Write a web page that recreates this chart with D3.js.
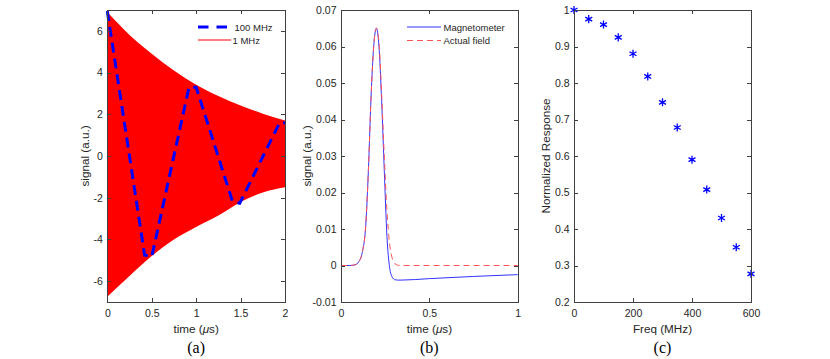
<!DOCTYPE html>
<html>
<head>
<meta charset="utf-8">
<script src="https://cdn.jsdelivr.net/npm/d3@7"></script>
<style>
  body { margin: 0; background: #fff; }
  text { font-family: "Liberation Sans", Arial, sans-serif; fill: #262626; }
</style>
</head>
<body>
<svg id="chart" width="830" height="359"></svg>
<script>
// (a) ringing signal: envelope of the 1 MHz trace and the 100 MHz trace
const envT     = [0, 0.25, 0.5, 0.75, 1.0, 1.25, 1.5, 1.75, 2.0];
const envUpper = [6.9, 5.8, 4.9, 4.1, 3.42, 2.88, 2.42, 2.03, 1.7];
const envLower = [-6.75, -5.75, -4.8, -4.0, -3.4, -2.85, -2.2, -1.75, -1.5];
const fastT    = [0, 0.42, 0.5, 0.92, 1.0, 1.41, 1.49, 1.94, 2.0];
const fastV    = [6.95, -4.75, -4.83, 3.3, 3.3, -2.19, -2.27, 1.6, 1.6];

// (b) pulse response
const magT = [0, 0.05, 0.08, 0.1, 0.12, 0.14, 0.155, 0.17, 0.185, 0.2, 0.215, 0.23, 0.245, 0.26, 0.275, 0.29, 0.305, 0.32, 0.34, 0.5, 0.75, 1.0];
const magV = [0, 0, 0.0002, 0.001, 0.0035, 0.011, 0.026, 0.046, 0.06, 0.065, 0.06, 0.045, 0.026, 0.008, -0.0005, -0.0032, -0.0039, -0.004, -0.004, -0.0036, -0.003, -0.0025];
const actT = [0, 0.05, 0.08, 0.1, 0.12, 0.14, 0.155, 0.17, 0.185, 0.2, 0.215, 0.23, 0.245, 0.26, 0.275, 0.29, 0.305, 0.32, 0.34, 1.0];
const actV = [0, 0, 0.0002, 0.001, 0.0035, 0.011, 0.026, 0.046, 0.06, 0.065, 0.061, 0.047, 0.03, 0.015, 0.006, 0.002, 0.0005, 0.0001, 0, 0];

// (c) frequency response
const freq = [0, 50, 100, 150, 200, 250, 300, 350, 400, 450, 500, 550, 600];
const resp = [1, 0.975, 0.96, 0.925, 0.88, 0.818, 0.747, 0.678, 0.59, 0.508, 0.43, 0.35, 0.277];

// ticks
const xTicksA = [0, 0.5, 1, 1.5, 2];
const yTicksA = [-6, -4, -2, 0, 2, 4, 6];
const xTicksB = [0, 0.5, 1];
const yTicksB = [-0.01, 0, 0.01, 0.02, 0.03, 0.04, 0.05, 0.06, 0.07];
const xTicksC = [0, 200, 400, 600];
const yTicksC = [0.2, 0.3, 0.4, 0.5, 0.6, 0.7, 0.8, 0.9, 1];

const svg = d3.select("#chart");
const plotTop = 10, plotBottom = 302;

function panel(left, right, xDom, yDom, xTicks, yTicks, yFmt, xLabel, yLabel, yLabelX, tag) {
  const x = d3.scaleLinear().domain(xDom).range([left, right]);
  const y = d3.scaleLinear().domain(yDom).range([plotBottom, plotTop]);
  const g = svg.append("g");
  const plot = g.append("g");

  const axes = g.append("g").attr("font-size", 10.5);
  const ax = [
    [d3.axisBottom(x).tickValues(xTicks).tickFormat(d => String(d)).tickPadding(8), `translate(0,${plotBottom})`],
    [d3.axisTop(x).tickValues(xTicks).tickFormat(""), `translate(0,${plotTop})`],
    [d3.axisLeft(y).tickValues(yTicks).tickFormat(yFmt).tickPadding(4.5), `translate(${left},0)`],
    [d3.axisRight(y).tickValues(yTicks).tickFormat(""), `translate(${right},0)`]
  ];
  ax.forEach(([a, t]) => {
    const s = axes.append("g").attr("transform", t)
      .call(a.tickSize(-4).tickSizeOuter(0));
    s.attr("font-family", null).attr("font-size", null);
    s.selectAll("path, line").attr("stroke", "#404040").attr("shape-rendering", "crispEdges");
    s.selectAll("text").attr("fill", "#262626");
  });

  const xl = g.append("text").attr("x", (left + right) / 2).attr("y", 333)
    .attr("text-anchor", "middle").attr("font-size", 11.7);
  if (Array.isArray(xLabel)) {
    xLabel.forEach(p => xl.append("tspan").attr("font-style", p.italic ? "italic" : null).text(p.t));
  } else xl.text(xLabel);

  g.append("text").attr("transform", `translate(${yLabelX},${(plotTop + plotBottom) / 2}) rotate(-90)`)
    .attr("text-anchor", "middle").attr("font-size", 11.7).text(yLabel);

  g.append("text").attr("x", (left + right) / 2).attr("y", 353)
    .attr("text-anchor", "middle").attr("font-size", 16)
    .style("font-family", "'Liberation Serif', 'Times New Roman', serif")
    .style("fill", "#000").text(tag);

  return { x, y, plot, g };
}

const timeLabel = [{ t: "time (" }, { t: "\u03bc", italic: true }, { t: "s)" }];

// ---- (a)
const A = panel(107.3, 285, [0, 2], [-7, 7], xTicksA, yTicksA, d => String(d),
  timeLabel, "signal (a.u.)", 88.5, "(a)");

A.plot.append("path")
  .attr("d", d3.area().x((d, i) => A.x(envT[i])).y0((d, i) => A.y(envLower[i])).y1((d, i) => A.y(envUpper[i]))
    .curve(d3.curveMonotoneX)(envT))
  .attr("fill", "#ff0000");

A.plot.append("path")
  .attr("d", d3.line().x((d, i) => A.x(fastT[i])).y((d, i) => A.y(fastV[i]))(fastT))
  .attr("fill", "none").attr("stroke", "#0000ff").attr("stroke-width", 3)
  .attr("stroke-dasharray", "10,6");

const legA = A.g.append("g").attr("font-size", 9.5);
legA.append("line").attr("x1", 198).attr("x2", 229).attr("y1", 27).attr("y2", 27)
  .attr("stroke", "#0000ff").attr("stroke-width", 3).attr("stroke-dasharray", "10.5,8");
legA.append("line").attr("x1", 198).attr("x2", 231).attr("y1", 40).attr("y2", 40)
  .attr("stroke", "#ff0000").attr("stroke-width", 1);
legA.append("text").attr("x", 234.5).attr("y", 30.5).text("100 MHz");
legA.append("text").attr("x", 232.5).attr("y", 43.5).text("1 MHz");

// ---- (b)
const B = panel(341, 517.7, [0, 1], [-0.01, 0.07], xTicksB, yTicksB, d => String(+d.toFixed(2)),
  timeLabel, "signal (a.u.)", 311, "(b)");

B.plot.append("path")
  .attr("d", d3.line().x((d, i) => B.x(magT[i])).y((d, i) => B.y(magV[i])).curve(d3.curveMonotoneX)(magT))
  .attr("fill", "none").attr("stroke", "#3333ff").attr("stroke-width", 1);
B.plot.append("path")
  .attr("d", d3.line().x((d, i) => B.x(actT[i])).y((d, i) => B.y(actV[i])).curve(d3.curveMonotoneX)(actT))
  .attr("fill", "none").attr("stroke", "#ff5555").attr("stroke-width", 1)
  .attr("stroke-dasharray", "6,4");

const legB = B.g.append("g").attr("font-size", 9.5);
legB.append("line").attr("x1", 407).attr("x2", 441).attr("y1", 27).attr("y2", 27)
  .attr("stroke", "#3333ff").attr("stroke-width", 1);
legB.append("line").attr("x1", 407).attr("x2", 441).attr("y1", 40.5).attr("y2", 40.5)
  .attr("stroke", "#ff5555").attr("stroke-width", 1).attr("stroke-dasharray", "6,4");
legB.append("text").attr("x", 443.5).attr("y", 30.5).text("Magnetometer");
legB.append("text").attr("x", 443.5).attr("y", 44).text("Actual field");

// ---- (c)
const C = panel(574, 751, [0, 600], [0.2, 1], xTicksC, yTicksC, d => String(+d.toFixed(1)),
  "Freq (MHz)", "Normalized Response", 549.5, "(c)");

const star = d3.symbol(d3.symbolAsterisk, 45);
C.plot.selectAll("path.star").data(freq).join("path")
  .attr("class", "star")
  .attr("transform", (d, i) => `translate(${C.x(d)},${C.y(resp[i])})`)
  .attr("d", star)
  .attr("fill", "none").attr("stroke", "#0000ff").attr("stroke-width", 1.3);
</script>
</body>
</html>
